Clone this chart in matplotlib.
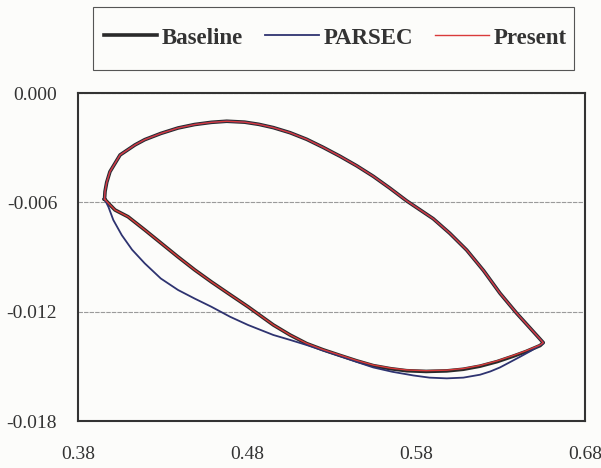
"""
Airfoil shape comparison: baseline vs PARSEC fit vs present method.
Values read off a scanned figure.
"""

import matplotlib.pyplot as plt
from matplotlib.patches import Rectangle
from matplotlib.ticker import FixedLocator

# upper surface, leading edge -> trailing edge (shared by all three)
upper_x = [0.3957, 0.3960, 0.3970, 0.3989, 0.4049, 0.4137, 0.4195, 0.4290,
           0.4392, 0.4490, 0.4589, 0.4680, 0.4786, 0.4870, 0.4956, 0.5055,
           0.5153, 0.5250, 0.5350, 0.5450, 0.5547, 0.5645, 0.5745, 0.5902,
           0.6000, 0.6100, 0.6200, 0.6297, 0.6396, 0.6480, 0.6553]
upper_y = [-0.00582, -0.00540, -0.00490, -0.00432, -0.00340, -0.00285,
           -0.00256, -0.00222, -0.00192, -0.00173, -0.00161, -0.00155,
           -0.00160, -0.00172, -0.00190, -0.00218, -0.00254, -0.00298,
           -0.00347, -0.00400, -0.00457, -0.00522, -0.00592, -0.00690,
           -0.00770, -0.00862, -0.00975, -0.01099, -0.01209, -0.01295,
           -0.01370]

# lower surface of baseline / present, trailing edge -> leading edge
lower_x = [0.6553, 0.6534, 0.6450, 0.6376, 0.6280, 0.6179, 0.6080, 0.5982,
           0.5860, 0.5745, 0.5650, 0.5547, 0.5450, 0.5350, 0.5250, 0.5153,
           0.5055, 0.4956, 0.4806, 0.4688, 0.4590, 0.4491, 0.4390, 0.4293,
           0.4196, 0.4096, 0.4019, 0.3980, 0.3957]
base_lower_y = [-0.01370, -0.01386, -0.01419, -0.01444, -0.01474, -0.01499,
                -0.01516, -0.01525, -0.01528, -0.01524, -0.01513, -0.01496,
                -0.01470, -0.01440, -0.01409, -0.01375, -0.01328, -0.01273,
                -0.01173, -0.01099, -0.01037, -0.00971, -0.00898, -0.00825,
                -0.00752, -0.00679, -0.00642, -0.00605, -0.00582]
pres_lower_y = [-0.01370, -0.01383, -0.01415, -0.01440, -0.01470, -0.01495,
                -0.01512, -0.01521, -0.01524, -0.01520, -0.01510, -0.01493,
                -0.01468, -0.01438, -0.01408, -0.01374, -0.01328, -0.01273,
                -0.01173, -0.01099, -0.01037, -0.00971, -0.00898, -0.00825,
                -0.00752, -0.00679, -0.00642, -0.00605, -0.00582]

# PARSEC lower surface, trailing edge -> leading edge
parsec_lower_x = [0.6553, 0.6480, 0.6415, 0.6350, 0.6297, 0.6240, 0.6179,
                  0.6080, 0.5982, 0.5880, 0.5784, 0.5660, 0.5547, 0.5450,
                  0.5350, 0.5250, 0.5153, 0.5055, 0.4956, 0.4806, 0.4700,
                  0.4589, 0.4490, 0.4392, 0.4290, 0.4195, 0.4120, 0.4059,
                  0.4009, 0.3980, 0.3957]
parsec_lower_y = [-0.01373, -0.01415, -0.01448, -0.01480, -0.01506, -0.01528,
                  -0.01546, -0.01562, -0.01566, -0.01562, -0.01550, -0.01530,
                  -0.01506, -0.01476, -0.01444, -0.01413, -0.01383, -0.01355,
                  -0.01328, -0.01273, -0.01228, -0.01173, -0.01128, -0.01081,
                  -0.01018, -0.00935, -0.00860, -0.00780, -0.00697, -0.00625,
                  -0.00582]

x_ticks = [0.38, 0.48, 0.58, 0.68]
y_ticks = [0.000, -0.006, -0.012, -0.018]

TEXT = "#333333"
BG = "#fcfcfa"

fig = plt.figure(figsize=(6.01, 4.68), dpi=100, facecolor=BG)
ax = fig.add_axes([78 / 601, 47 / 468, 507 / 601, 328 / 468])
ax.set_facecolor(BG)

ax.plot(upper_x + lower_x, upper_y + base_lower_y,
        color="#2a2a2a", lw=2.6, label="Baseline")
ax.plot(upper_x + parsec_lower_x, upper_y + parsec_lower_y,
        color="#2e3370", lw=1.3, label="PARSEC")
ax.plot(upper_x + lower_x, upper_y + pres_lower_y,
        color="#d93a3a", lw=1.0, label="Present")

ax.set_xlim(0.38, 0.68)
ax.set_ylim(-0.018, 0.0)
ax.xaxis.set_major_locator(FixedLocator(x_ticks))
ax.yaxis.set_major_locator(FixedLocator(y_ticks))
ax.set_xticklabels([f"{v:.2f}" for v in x_ticks])
ax.set_yticklabels([f"{v:.3f}" for v in y_ticks])
ax.tick_params(length=0, labelsize=14, labelcolor=TEXT)
ax.tick_params(axis="x", pad=18)
ax.tick_params(axis="y", pad=15)
for lab in ax.get_xticklabels() + ax.get_yticklabels():
    lab.set_fontfamily("Liberation Serif")

ax.grid(axis="y", color="#9a9a9a", lw=0.8, linestyle=(0, (4, 1)))
ax.set_axisbelow(True)
for sp in ax.spines.values():
    sp.set_color("#333333")
    sp.set_linewidth(1.5)

# legend box drawn by hand so the padding can differ per side
fig.patches.append(Rectangle((93 / 601, 1 - 70 / 468), 481 / 601, 63 / 468,
                             transform=fig.transFigure, fill=False,
                             edgecolor="#555555", lw=0.8))
leg = fig.legend(loc="center", bbox_to_anchor=(335 / 601, 1 - 38 / 468),
                 ncol=3, frameon=False, handlelength=2.35,
                 handletextpad=0.2, columnspacing=0.95,
                 prop={"family": "Liberation Serif", "weight": "bold",
                       "size": 16.5})
for t in leg.get_texts():
    t.set_color(TEXT)

fig.savefig("out.png", dpi=100, facecolor=fig.get_facecolor())
